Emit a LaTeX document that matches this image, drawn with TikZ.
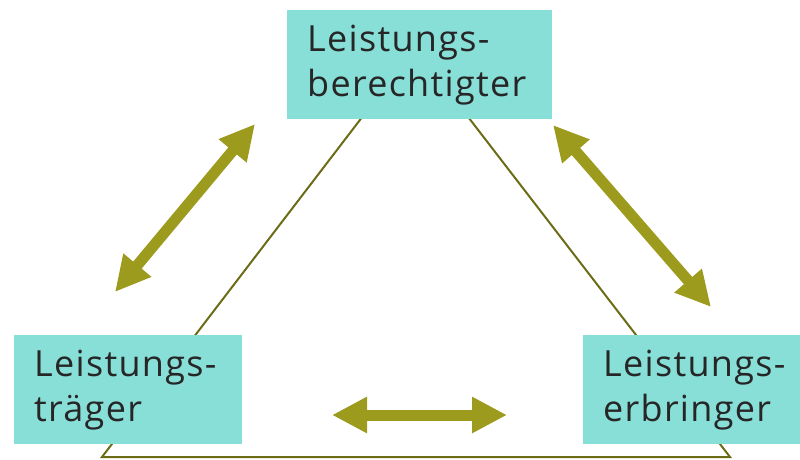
\documentclass[tikz,border=0pt]{standalone}
\usepackage{fontspec}
\setmainfont[Ligatures={NoCommon},LetterSpace=3.6]{Open Sans}
\usetikzlibrary{arrows.meta}
\definecolor{boxteal}{RGB}{136,223,216}
\definecolor{arrowolive}{RGB}{157,155,30}
\definecolor{lineolive}{RGB}{108,108,22}
\definecolor{textdark}{RGB}{38,38,38}
\tikzset{
  partybox/.style={fill=boxteal, anchor=north west, minimum height=109pt,
    text width=188pt, inner xsep=20pt, align=left, text=textdark,
    font=\fontsize{36}{45}\selectfont},
  bigarrow/.style={arrowolive, line width=11pt,
    {Triangle[length=35pt,width=34pt]}-{Triangle[length=35pt,width=34pt]}}
}
\begin{document}
\begin{tikzpicture}[x=1pt,y=-1pt]
        \useasboundingbox (0,0) rectangle (800,459);
        \clip (0,0) rectangle (800,459);
        % Dreieck
        \coordinate (apex) at (415,48);
        \coordinate (bl) at (102,457);
        \coordinate (br) at (730,457);
        \draw[lineolive, line width=2pt] (apex) -- (bl) -- (br) -- cycle;
        % Kaesten
        \node[partybox, text width=225pt] (berechtigter) at (287,10) {Leistungs-\\berechtigter};
        \node[partybox] (traeger) at (14,335) {Leistungs-\\träger};
        \node[partybox] (erbringer) at (583,335) {Leistungs-\\erbringer};
        % Pfeile
        \coordinate (la) at (115,292);
        \coordinate (lb) at (255,124);
        \coordinate (ra) at (553,125);
        \coordinate (rb) at (711,307);
        \coordinate (ba) at (332,415);
        \coordinate (bb) at (507,415);
        \draw[bigarrow] (la) -- (lb);
        \draw[bigarrow] (ra) -- (rb);
        \draw[bigarrow] (ba) -- (bb);
\end{tikzpicture}
\end{document}
